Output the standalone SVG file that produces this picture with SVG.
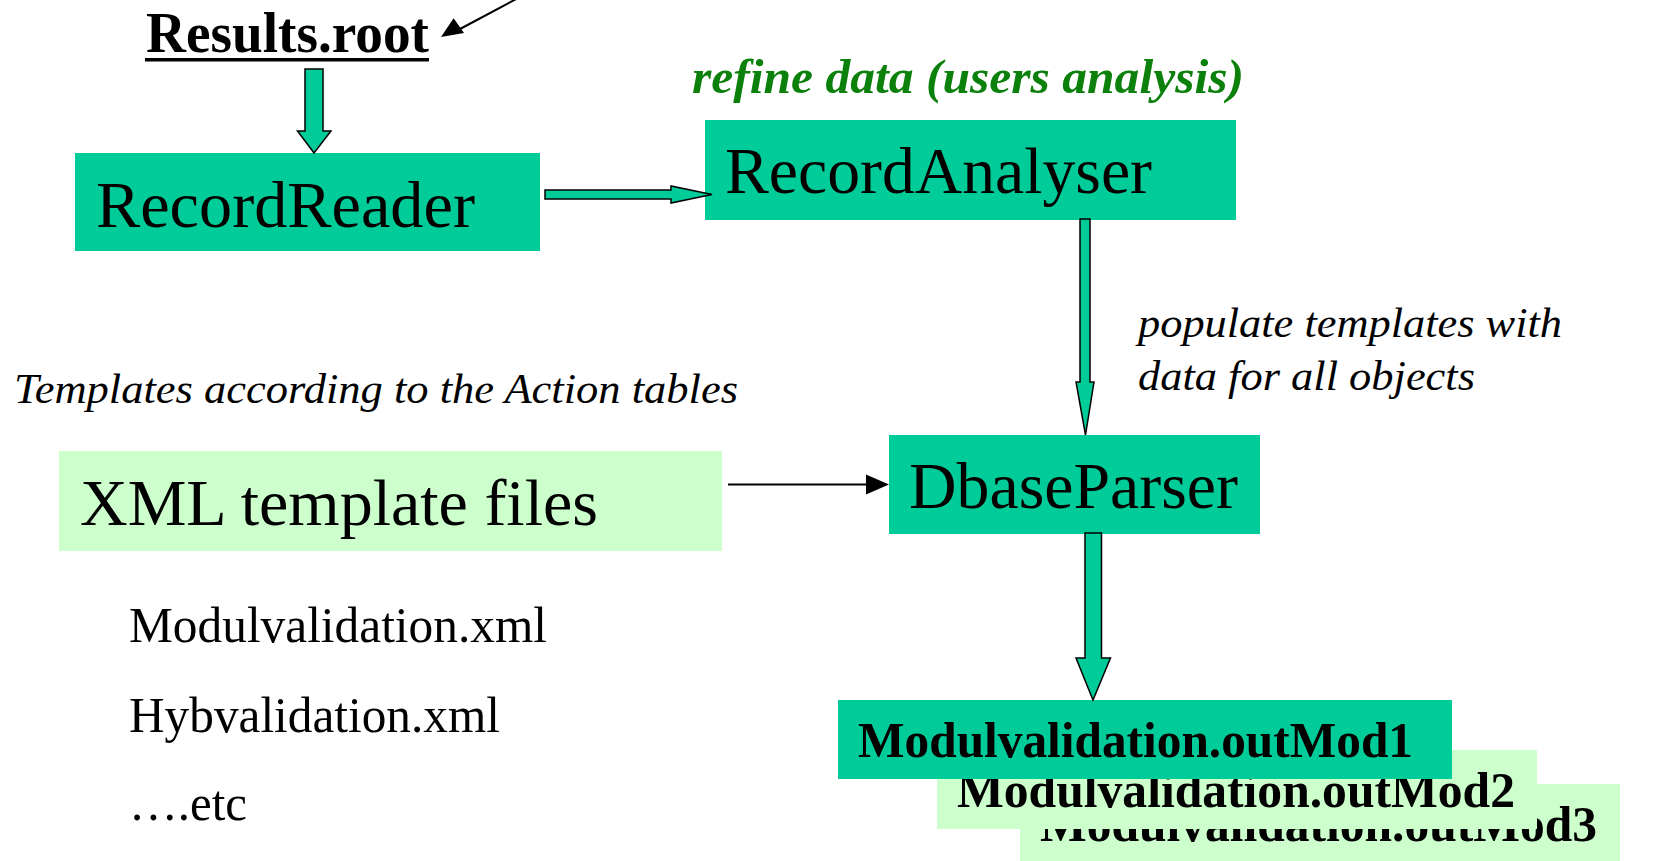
<svg xmlns="http://www.w3.org/2000/svg" width="1656" height="861" viewBox="0 0 1656 861">
<style>
.box{fill:#00cc99}
.lbox{fill:#ccffcc}
.big{font-family:"Liberation Serif","Times New Roman",serif;font-size:66px;fill:#000}
.it{font-family:"Liberation Serif","Times New Roman",serif;font-style:italic;fill:#000}
.reg{font-family:"Liberation Serif","Times New Roman",serif;font-size:50px;fill:#000}
.bold{font-family:"Liberation Serif","Times New Roman",serif;font-weight:bold;fill:#000}
.blk{fill:#00cc99;stroke:#000;stroke-width:1.5;stroke-linejoin:miter}
</style>
<rect width="1656" height="861" fill="#fff"/>
<g id="results-root">
<text class="bold" x="146" y="52" font-size="57" textLength="283" lengthAdjust="spacingAndGlyphs">Results.root</text>
<rect x="145" y="58" width="284" height="3.5" fill="#000"/>
</g>
<g id="refine-label">
<text class="bold" x="692" y="93" font-size="48" font-style="italic" style="fill:#0b800b" textLength="552" lengthAdjust="spacingAndGlyphs">refine data (users analysis)</text>
</g>
<g id="record-reader">
<rect class="box" x="75" y="153" width="465" height="98"/>
<text class="big" x="96" y="227" textLength="379" lengthAdjust="spacingAndGlyphs">RecordReader</text>
</g>
<g id="record-analyser">
<rect class="box" x="705" y="120" width="531" height="100"/>
<text class="big" x="725" y="193" textLength="427" lengthAdjust="spacingAndGlyphs">RecordAnalyser</text>
</g>
<g id="populate-label">
<text class="it" x="1138" y="337" font-size="43" textLength="424" lengthAdjust="spacingAndGlyphs">populate templates with</text>
<text class="it" x="1138" y="390" font-size="43" textLength="337" lengthAdjust="spacingAndGlyphs">data for all objects</text>
</g>
<g id="templates-label">
<text class="it" x="14" y="403" font-size="42" textLength="724" lengthAdjust="spacingAndGlyphs">Templates according to the Action tables</text>
</g>
<g id="xml-templates">
<rect class="lbox" x="59" y="451" width="663" height="100"/>
<text class="big" x="80" y="525" textLength="518" lengthAdjust="spacingAndGlyphs">XML template files</text>
</g>
<g id="dbase-parser">
<rect class="box" x="889" y="435" width="371" height="99"/>
<text class="big" x="909" y="508" textLength="329" lengthAdjust="spacingAndGlyphs">DbaseParser</text>
</g>
<g id="file-list">
<text class="reg" x="129" y="642" textLength="418" lengthAdjust="spacingAndGlyphs">Modulvalidation.xml</text>
<text class="reg" x="129" y="732" textLength="371" lengthAdjust="spacingAndGlyphs">Hybvalidation.xml</text>
<text class="reg" x="129" y="820" textLength="118" lengthAdjust="spacingAndGlyphs">….etc</text>
</g>
<g id="outmod3">
<rect class="lbox" x="1020" y="784" width="600" height="77"/>
<text class="bold" x="1040" y="841" font-size="50" textLength="557" lengthAdjust="spacingAndGlyphs">Modulvalidation.outMod3</text>
</g>
<g id="outmod2">
<rect class="lbox" x="937" y="750" width="600" height="79"/>
<text class="bold" x="957" y="807" font-size="50" textLength="558" lengthAdjust="spacingAndGlyphs">Modulvalidation.outMod2</text>
</g>
<g id="outmod1">
<rect class="box" x="838" y="700" width="614" height="79"/>
<text class="bold" x="858" y="757" font-size="50" textLength="555" lengthAdjust="spacingAndGlyphs">Modulvalidation.outMod1</text>
</g>
<g id="connectors">
<polygon class="blk" points="305,69 323,69 323,131 331,131 314,153 297.5,131 305,131"/>
<polygon class="blk" points="545,190 671,190 671,186 712,194.5 671,203 671,199 545,199"/>
<polygon class="blk" points="1080,219 1090,219 1090,382 1094,382 1085.5,435 1076,382 1080,382"/>
<polygon class="blk" points="1085,533 1101.5,533 1101.5,658 1110.5,658 1093,700 1076,658 1085,658"/>
<line x1="728" y1="484.5" x2="868" y2="484.5" stroke="#000" stroke-width="2"/>
<polygon points="866,474.5 889,484.5 866,494.5" fill="#000"/>
<line x1="460" y1="29" x2="520" y2="-3" stroke="#000" stroke-width="2"/>
<polygon points="441,37 453.6,18.3 464,33" fill="#000"/>
</g>
</svg>
